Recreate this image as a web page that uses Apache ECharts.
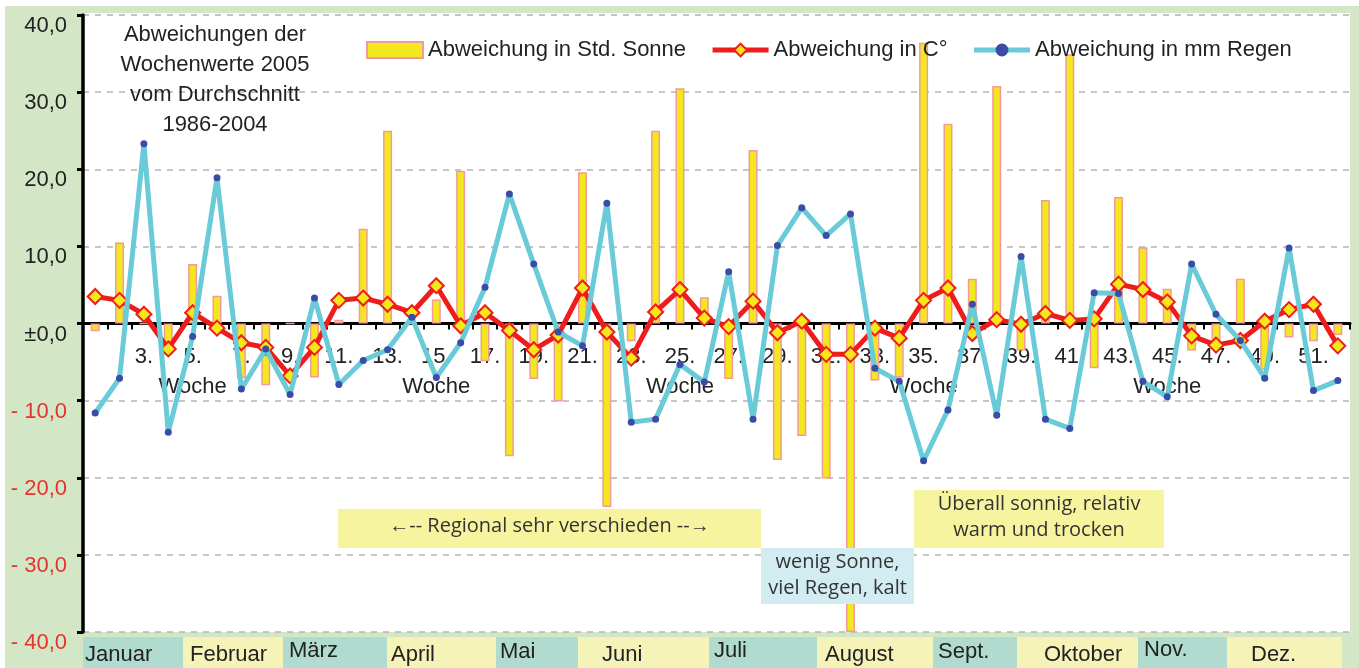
<!DOCTYPE html>
<html>
<head>
<meta charset="utf-8">
<script src="https://cdn.jsdelivr.net/npm/echarts@6/dist/echarts.min.js"></script>
<style>
  html, body { margin: 0; padding: 0; background: #fff; }
  #wrap { position: relative; width: 1359px; height: 668px; overflow: hidden; }
  #bg { position: absolute; left: 5px; top: 6px; right: 0; bottom: 0; background: #d3e7c6; }
  #plot { position: absolute; left: 83px; top: 13px; width: 1267px; height: 619px; background: #fff; }
  #chart { position: absolute; left: 0; top: 0; width: 1359px; height: 668px; }
</style>
</head>
<body>
<div id="wrap">
  <div id="bg"></div>
  <div id="plot"></div>
  <div id="chart"></div>
</div>
<script>
  // Kalenderwochen 2005
  const weeks = ['1.', '2.', '3.', '4.', '5.', '6.', '7.', '8.', '9.', '10.',
    '11.', '12.', '13.', '14.', '15.', '16.', '17.', '18.', '19.', '20.',
    '21.', '22.', '23.', '24.', '25.', '26.', '27.', '28.', '29.', '30.',
    '31.', '32.', '33.', '34.', '35.', '36.', '37.', '38.', '39.', '40.',
    '41.', '42.', '43.', '44.', '45.', '46.', '47.', '48.', '49.', '50.',
    '51.', '52.'];

  // Abweichung in Std. Sonne
  const sunDev = [-1.0, 10.5, 0, -4.0, 7.7, 3.6, -7.1, -8.0, 0, -7.0,
    0.5, 12.3, 25.0, 0, 3.1, 19.8, -4.9, -17.2, -7.2, -10.1,
    19.6, -23.8, -2.3, 25.0, 30.5, 3.4, -7.2, 22.5, -17.7, -14.6,
    -20.1, -40.0, -7.4, -7.0, 36.4, 25.9, 5.8, 30.8, -3.5, 16.0,
    34.9, -5.8, 16.4, 9.9, 4.5, -3.5, -3.0, 5.8, -6.0, -1.8,
    -2.3, -1.5];

  // Abweichung in C°
  const tempDev = [3.5, 3.0, 1.2, -3.3, 1.4, -0.6, -2.5, -3.1, -6.8, -3.1,
    3.0, 3.3, 2.5, 1.4, 4.9, -0.3, 1.4, -0.9, -3.4, -1.5,
    4.6, -1.1, -4.5, 1.5, 4.4, 0.7, -0.4, 2.9, -1.2, 0.3,
    -4.0, -4.0, -0.6, -1.9, 3.0, 4.6, -1.3, 0.5, -0.1, 1.3,
    0.4, 0.6, 5.1, 4.4, 2.8, -1.6, -2.8, -2.2, 0.3, 1.8,
    2.5, -2.9];

  // Abweichung in mm Regen
  const rainDev = [-11.6, -7.1, 23.3, -14.1, -1.7, 18.9, -8.5, -3.3, -9.2, 3.3,
    -7.9, -4.8, -3.4, 0.8, -7.0, -2.5, 4.7, 16.8, 7.7, -1.1,
    -2.9, 15.6, -12.8, -12.4, -5.3, -7.6, 6.7, -12.4, 10.1, 15.0,
    11.4, 14.2, -5.8, -7.5, -17.8, -11.2, 2.5, -11.9, 8.7, -12.4,
    -13.6, 4.0, 3.9, -7.5, -9.5, 7.7, 1.2, -2.2, -7.1, 9.8,
    -8.7, -7.4];

  const seriesNames = ['Abweichung in Std. Sonne', 'Abweichung in C°', 'Abweichung in mm Regen'];
  const monthNames = ['Januar', 'Februar', 'März', 'April', 'Mai', 'Juni',
    'Juli', 'August', 'Sept.', 'Oktober', 'Nov.', 'Dez.'];

  // Monatsleiste unten: [x0, x1, text x, text y]
  const monthBands = [
    [83, 183, 85, 655], [183, 283, 190, 655], [283, 387, 289, 651], [387, 496, 391, 655],
    [496, 578, 500, 652], [578, 709, 602, 655], [709, 817, 714, 651], [817, 933, 825, 655],
    [933, 1017, 938, 652], [1017, 1138, 1044, 655], [1138, 1227, 1144, 650], [1227, 1342, 1251, 655]
  ];

  const font = '"Liberation Sans", Arial, sans-serif';
  const noteFont = '"Open Sans", "Noto Sans", sans-serif';

  const gridTop = 15, gridBottom = 36, chartH = 668;
  // Die y-Achse ist symmetrisch (-40..40), die Wochenachse liegt also in der Mitte
  const zeroOffset = -(chartH - gridTop - gridBottom) / 2;

  const graphic = [];
  monthBands.forEach((b, i) => {
    graphic.push({
      type: 'rect', z: 100,
      shape: { x: b[0], y: 637, width: b[1] - b[0], height: 31 },
      style: { fill: i % 2 === 0 ? '#b0dbce' : '#f6f3b8' }
    });
    graphic.push({
      type: 'text', z: 101, x: b[2], y: b[3],
      style: { text: monthNames[i], font: '22px ' + font, fill: '#222', textVerticalAlign: 'middle' }
    });
  });

  graphic.push({
    type: 'text', z: 100, x: 215, y: 20,
    style: {
      text: 'Abweichungen der\nWochenwerte 2005\nvom Durchschnitt\n1986-2004',
      font: '22px ' + font, fill: '#222', textAlign: 'center', lineHeight: 30
    }
  });

  function note(x, y, w, h, fill, text, ty) {
    graphic.push({ type: 'rect', z: 100, shape: { x: x, y: y, width: w, height: h }, style: { fill: fill } });
    graphic.push({
      type: 'text', z: 101, x: x + w / 2, y: ty,
      style: { text: text, font: '20px ' + noteFont, fill: '#333', textAlign: 'center',
        textVerticalAlign: 'middle', lineHeight: 26 }
    });
  }
  note(338, 509, 423, 39, '#f7f4a0', '←-- Regional sehr verschieden --→', 526);
  note(761, 548, 153, 56, '#d3ecf2', 'wenig Sonne,\nviel Regen, kalt', 575);
  note(914, 490, 250, 58, '#f7f4a0', 'Überall sonnig, relativ\nwarm und trocken', 517);

  const chart = echarts.init(document.getElementById('chart'));
  chart.setOption({
    backgroundColor: 'transparent',
    animation: false,
    textStyle: { fontFamily: font },
    grid: {
      left: 83, right: 9, top: gridTop, bottom: gridBottom,
      outerBoundsMode: 'none'
    },
    legend: {
      left: 361, top: 34,
      itemWidth: 56, itemHeight: 16, itemGap: 24,
      textStyle: { fontSize: 22, color: '#222', fontFamily: font },
      lineStyle: { width: 5 },
      data: [
        { name: seriesNames[0], icon: 'rect' },
        { name: seriesNames[1] },
        { name: seriesNames[2] }
      ]
    },
    xAxis: {
      type: 'category',
      data: weeks,
      boundaryGap: true,
      position: 'bottom',
      offset: zeroOffset,
      axisLine: { onZero: false, lineStyle: { color: '#000', width: 3 } },
      axisTick: { show: true, interval: 0, length: 6, lineStyle: { color: '#000', width: 2 } },
      axisLabel: {
        show: true,
        interval: 0,
        hideOverlap: false,
        margin: 18,
        fontSize: 22,
        color: '#222',
        lineHeight: 30,
        formatter: function (v, i) {
          if (i % 2 !== 0 || i === 0) return '';
          return (i + 1) % 10 === 5 ? v + '\nWoche' : v;
        }
      },
      splitLine: { show: false }
    },
    yAxis: {
      type: 'value',
      min: -40, max: 40, interval: 10,
      axisLine: { show: true, lineStyle: { color: '#000', width: 3.5 } },
      axisTick: { show: true, length: 6, lineStyle: { color: '#000', width: 3 } },
      axisLabel: {
        margin: 16,
        fontSize: 22,
        verticalAlign: 'top',
        color: (v) => (Number(v) < 0 ? '#e8322e' : '#222'),
        formatter: (v) => (v === 0 ? '±0,0' : v < 0 ? '- ' + Math.abs(v) + ',0' : v + ',0')
      },
      splitLine: { lineStyle: { color: '#b4b4b4', type: [6, 6], width: 1.5 } }
    },
    series: [
      {
        name: seriesNames[0],
        type: 'bar',
        data: sunDev,
        barWidth: 9,
        itemStyle: { color: '#f3e81e', borderColor: '#f39a9a', borderWidth: 1.5 },
        z: 2
      },
      {
        name: seriesNames[1],
        type: 'line',
        data: tempDev,
        symbol: 'diamond',
        symbolSize: 15,
        showAllSymbol: true,
        lineStyle: { color: '#ee1c1c', width: 5 },
        itemStyle: { color: '#f6e61c', borderColor: '#ee1c1c', borderWidth: 2 },
        z: 3
      },
      {
        name: seriesNames[2],
        type: 'line',
        data: rainDev,
        symbol: 'circle',
        symbolSize: 7,
        showAllSymbol: true,
        lineStyle: { color: '#69cad8', width: 5 },
        itemStyle: { color: '#3a4ca8' },
        z: 4
      }
    ],
    graphic: graphic
  });
</script>
</body>
</html>
